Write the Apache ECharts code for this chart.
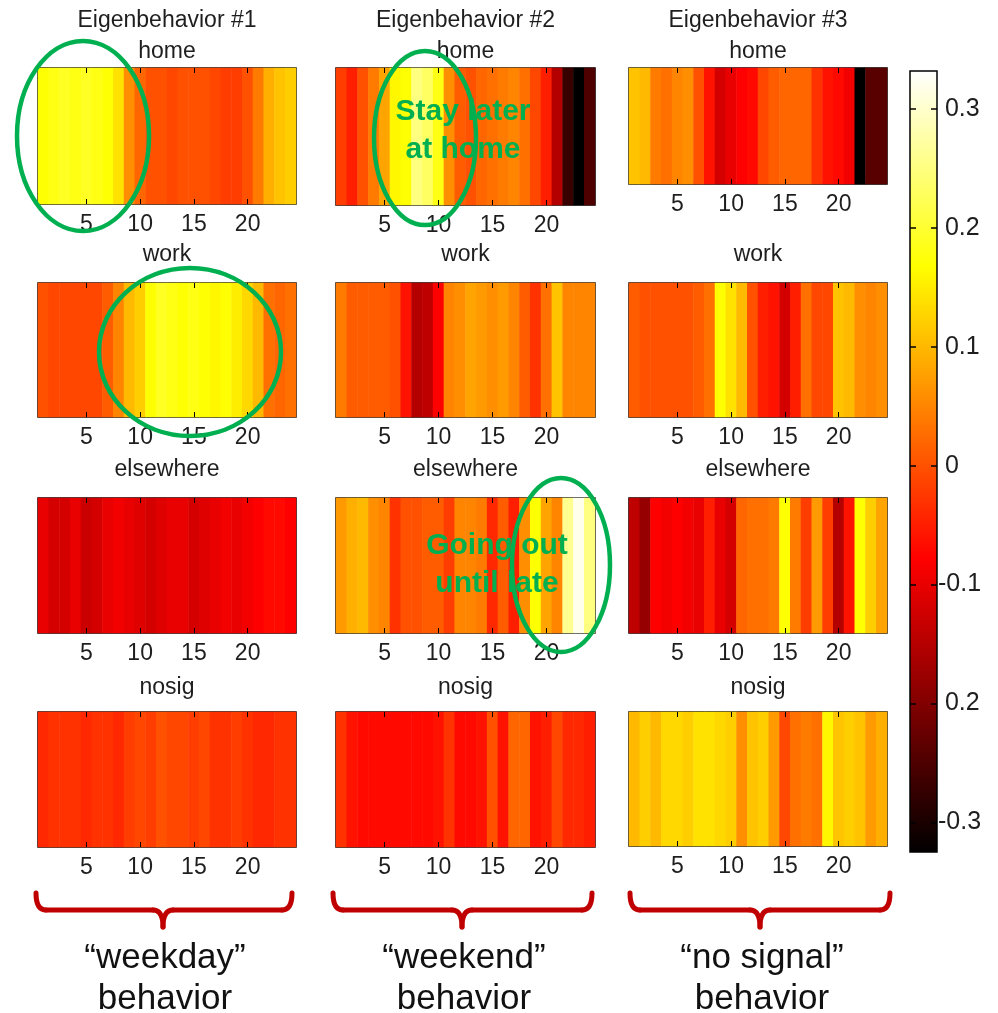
<!DOCTYPE html>
<html>
<head>
<meta charset="utf-8">
<script src="https://cdn.jsdelivr.net/npm/echarts@6/dist/echarts.min.js"></script>
<style>
  html, body { margin: 0; padding: 0; background: #ffffff; }
  #chart { width: 998px; height: 1013px; }
</style>
</head>
<body>
<div id="chart"></div>
<script>
// Hour-of-day columns shared by every panel
const hours = ['1','2','3','4','5','6','7','8','9','10','11','12',
               '13','14','15','16','17','18','19','20','21','22','23','24'];
const behaviors = ['Eigenbehavior #1', 'Eigenbehavior #2', 'Eigenbehavior #3'];
const places = ['home', 'work', 'elsewhere', 'nosig'];

// Eigenbehavior #1 ("weekday")
const eb1Home = [0.17, 0.18, 0.19, 0.18, 0.19, 0.18, 0.17, 0.14, 0.06, 0.02, 0.0, 0.0,
                 -0.01, 0.0, 0.0, 0.0, -0.01, -0.02, -0.02, 0.0, 0.04, 0.09, 0.11, 0.12];
const eb1Work = [0.0, -0.01, -0.01, -0.01, -0.01, -0.01, 0.01, 0.05, 0.10, 0.12, 0.17, 0.19,
                 0.18, 0.17, 0.18, 0.17, 0.16, 0.17, 0.15, 0.13, 0.10, 0.03, 0.02, 0.03];
const eb1Else = [-0.10, -0.12, -0.12, -0.10, -0.13, -0.12, -0.10, -0.09, -0.10, -0.11, -0.12, -0.11,
                 -0.10, -0.10, -0.12, -0.11, -0.10, -0.09, -0.10, -0.09, -0.08, -0.07, -0.07, -0.08];
const eb1Nosig = [-0.04, -0.03, -0.03, -0.03, -0.04, -0.03, -0.03, -0.04, -0.02, -0.01, -0.02, 0.0,
                  -0.01, -0.01, -0.02, -0.01, -0.03, -0.03, -0.02, -0.03, -0.04, -0.04, -0.03, -0.03];

// Eigenbehavior #2 ("weekend")
const eb2Home = [-0.02, -0.05, 0.0, 0.04, 0.08, 0.16, 0.17, 0.25, 0.23, 0.18, 0.06, 0.01,
                 0.0, 0.02, 0.03, 0.04, 0.05, 0.03, -0.01, -0.05, -0.15, -0.27, -0.33, -0.25];
const eb2Work = [0.04, 0.01, 0.01, 0.01, 0.01, 0.0, -0.06, -0.15, -0.14, -0.08, 0.05, 0.06,
                 0.08, 0.07, 0.06, 0.07, 0.05, 0.01, -0.03, 0.03, 0.11, 0.05, 0.05, 0.05];
const eb2Else = [0.07, 0.09, 0.10, 0.06, 0.05, -0.03, 0.0, 0.0, 0.01, 0.01, -0.02, 0.05,
                 0.05, 0.04, -0.04, 0.01, -0.05, 0.06, 0.17, 0.08, 0.05, 0.26, 0.32, 0.25];
const eb2Nosig = [-0.03, -0.06, -0.07, -0.07, -0.07, -0.07, -0.07, -0.07, -0.07, -0.06, -0.03, -0.07,
                  -0.07, -0.06, 0.0, -0.06, 0.02, 0.02, -0.06, -0.05, -0.01, -0.04, -0.04, -0.05];

// Eigenbehavior #3 ("no signal")
const eb3Home = [0.11, 0.10, 0.04, 0.03, 0.05, 0.06, 0.0, -0.06, -0.12, -0.10, -0.08, -0.07,
                 -0.01, 0.01, 0.02, 0.02, 0.02, -0.03, -0.06, -0.07, -0.09, -0.33, -0.24, -0.24];
const eb3Work = [0.01, 0.0, 0.0, 0.0, 0.0, 0.0, 0.01, 0.03, 0.17, 0.14, 0.10, 0.0,
                 -0.05, -0.06, -0.12, -0.05, 0.03, -0.01, -0.01, 0.11, 0.10, 0.06, 0.05, 0.06];
const eb3Else = [-0.14, -0.18, -0.08, -0.09, -0.08, -0.09, -0.10, -0.05, -0.10, -0.12, 0.02, 0.03,
                 0.03, 0.04, 0.17, 0.04, -0.02, 0.07, -0.02, -0.15, -0.06, 0.17, 0.12, 0.08];
const eb3Nosig = [0.10, 0.12, 0.10, 0.13, 0.13, 0.12, 0.14, 0.14, 0.13, 0.12, 0.06, 0.11,
                  0.12, 0.07, -0.01, 0.03, 0.04, 0.03, 0.16, 0.11, 0.12, 0.11, 0.07, 0.09];

const panels = [
  [eb1Home, eb1Work, eb1Else, eb1Nosig],
  [eb2Home, eb2Work, eb2Else, eb2Nosig],
  [eb3Home, eb3Work, eb3Else, eb3Nosig]
];

// Colour bar scale
const colorMin = -0.325;
const colorMax = 0.332;
const colorbarTicks = [-0.3, -0.2, -0.1, 0, 0.1, 0.2, 0.3];
const colorbarLabels = ['-0.3', ' 0.2', '-0.1', ' 0', ' 0.1', ' 0.2', ' 0.3'];

// Group captions under the columns
const groupQuoted = ['\u201cweekday\u201d', '\u201cweekend\u201d', '\u201cno signal\u201d'];
const groupWord = 'behavior';

// ---------- layout ----------
const FONT = '"Liberation Sans", Arial, Helvetica, sans-serif';
const INK = '#1e1e1e';
const GREEN = '#00B050';
const DARKRED = '#C00000';
const colLeft = [38, 336, 629];
const colWidth = [258, 259, 258];
const rowTop = [68, 283, 498, 712];
const rowHeight = [[136, 134, 135, 135], [137, 134, 135, 135], [116, 134, 135, 134]];
const placeTitleY = [52, 255, 470, 688];

// "hot" colormap: black -> red -> yellow -> white
const hot = ['#000000', '#550000', '#aa0000', '#ff0000', '#ff5500',
             '#ffaa00', '#ffff00', '#ffff80', '#ffffff'];

const grids = [], xAxes = [], yAxes = [], series = [], graphics = [];
const everyFifth = (i) => (i + 1) % 5 === 0;

panels.forEach((col, c) => {
  col.forEach((vals, r) => {
    const g = grids.length;
    grids.push({
      left: colLeft[c], top: rowTop[r], width: colWidth[c], height: rowHeight[c][r],
      show: true, borderColor: '#000', borderWidth: 1.5, backgroundColor: 'transparent'
    });
    xAxes.push({
      type: 'category', gridIndex: g, data: hours, position: 'bottom',
      axisLine: { show: false },
      axisTick: { show: true, inside: true, length: 5, alignWithLabel: true,
                  interval: everyFifth, lineStyle: { color: '#000' } },
      axisLabel: { interval: everyFifth, margin: 9, fontSize: 23,
                   fontFamily: FONT, color: INK },
      splitLine: { show: false }, z: 5
    });
    xAxes.push({
      type: 'category', gridIndex: g, data: hours, position: 'top',
      axisLine: { show: false },
      axisTick: { show: true, inside: true, length: 5, alignWithLabel: true,
                  interval: everyFifth, lineStyle: { color: '#000' } },
      axisLabel: { show: false }, splitLine: { show: false }, z: 5
    });
    yAxes.push({
      type: 'category', gridIndex: g, data: [places[r]], show: false
    });
    series.push({
      type: 'heatmap', xAxisIndex: xAxes.length - 2, yAxisIndex: yAxes.length - 1,
      data: vals.map((v, i) => [i, 0, v]),
      emphasis: { disabled: true }, silent: true
    });
    graphics.push({
      type: 'text', z: 50,
      style: { text: places[r], x: colLeft[c] + colWidth[c] / 2, y: placeTitleY[r],
               align: 'center', verticalAlign: 'middle',
               font: '23px ' + FONT, fill: INK }
    });
  });
  graphics.push({
    type: 'text', z: 50,
    style: { text: behaviors[c], x: colLeft[c] + colWidth[c] / 2, y: 21,
             align: 'center', verticalAlign: 'middle',
             font: '23px ' + FONT, fill: INK }
  });
});

// Colour bar: a grid whose background is the colormap, with its own value axis
const cbLeft = 910, cbTop = 71, cbWidth = 27, cbHeight = 781;
const cbGrid = grids.length;
grids.push({
  left: cbLeft, top: cbTop, width: cbWidth, height: cbHeight,
  show: true, borderColor: '#000', borderWidth: 1.5,
  backgroundColor: {
    type: 'linear', x: 0, y: 1, x2: 0, y2: 0,
    colorStops: hot.map((col, i) => ({ offset: i / (hot.length - 1), color: col }))
  }
});
xAxes.push({ type: 'value', gridIndex: cbGrid, show: false, min: 0, max: 1 });
const cbLabel = (v) => {
  const k = colorbarTicks.findIndex((t) => Math.abs(t - v) < 1e-6);
  return k >= 0 ? colorbarLabels[k] : '';
};
['right', 'left'].forEach((side) => yAxes.push({
  type: 'value', gridIndex: cbGrid, position: side, min: colorMin, max: colorMax, z: 10,
  axisLine: { show: false, onZero: false }, splitLine: { show: false },
  axisTick: { show: true, inside: true, length: 6, customValues: colorbarTicks,
              lineStyle: { color: '#000', width: 1.5 } },
  axisLabel: side === 'right'
    ? { customValues: colorbarTicks, formatter: cbLabel, margin: 1,
        fontSize: 25, fontFamily: FONT, color: INK, align: 'left' }
    : { show: false }
}));

// Highlight ellipses and notes
const ellipses = [
  { cx: 83, cy: 136, rx: 66, ry: 95 },
  { cx: 425, cy: 138, rx: 51, ry: 87 },
  { cx: 190, cy: 352, rx: 91, ry: 84 },
  { cx: 561, cy: 565, rx: 49, ry: 87 }
];
ellipses.forEach((e) => graphics.push({
  type: 'ellipse', z: 80, silent: true,
  shape: e, style: { fill: 'none', stroke: GREEN, lineWidth: 4.5 }
}));
const notes = [
  { text: 'Stay later', x: 463, y: 112 },
  { text: 'at home', x: 463, y: 150 },
  { text: 'Going out', x: 497, y: 546 },
  { text: 'until late', x: 497, y: 584 }
];
notes.forEach((n) => graphics.push({
  type: 'text', z: 90, silent: true,
  style: { text: n.text, x: n.x, y: n.y, align: 'center', verticalAlign: 'middle',
           font: 'bold 30px ' + FONT, fill: GREEN }
}));

// Brackets and captions beneath each column
const braces = [
  { l: 36, r: 292, m: 163 },
  { l: 333, r: 592, m: 462 },
  { l: 630, r: 890, m: 760 }
];
const braceStyle = { fill: 'none', stroke: DARKRED, lineWidth: 5, lineCap: 'round' };
braces.forEach((b, i) => {
  const y0 = 893, y1 = 910, y2 = 927, k = 10;
  const curves = [
    [b.l, y0, b.l + k, y1, b.l, y1],
    [b.m - k, y1, b.m, y2, b.m, y1],
    [b.m, y2, b.m + k, y1, b.m, y1],
    [b.r - k, y1, b.r, y0, b.r, y1]
  ];
  curves.forEach((q) => graphics.push({
    type: 'bezierCurve', z: 70, silent: true,
    shape: { x1: q[0], y1: q[1], x2: q[2], y2: q[3], cpx1: q[4], cpy1: q[5] },
    style: braceStyle
  }));
  [[b.l + k, b.m - k], [b.m + k, b.r - k]].forEach((s) => graphics.push({
    type: 'line', z: 70, silent: true,
    shape: { x1: s[0], y1: y1, x2: s[1], y2: y1 },
    style: braceStyle
  }));
  graphics.push({
    type: 'text', z: 70,
    style: { text: groupQuoted[i], x: b.m + 2, y: 958, align: 'center', verticalAlign: 'middle',
             font: '35px ' + FONT, fill: '#111' }
  });
  graphics.push({
    type: 'text', z: 70,
    style: { text: groupWord, x: b.m + 2, y: 999, align: 'center', verticalAlign: 'middle',
             font: '35px ' + FONT, fill: '#111' }
  });
});

const chart = echarts.init(document.getElementById('chart'), null, { renderer: 'canvas' });
chart.setOption({
  backgroundColor: '#ffffff',
  animation: false,
  grid: grids,
  xAxis: xAxes,
  yAxis: yAxes,
  visualMap: {
    type: 'continuous', show: false, min: colorMin, max: colorMax,
    seriesIndex: series.map((s, i) => i),
    inRange: { color: hot }
  },
  series: series,
  graphic: { elements: graphics }
});
</script>
</body>
</html>
